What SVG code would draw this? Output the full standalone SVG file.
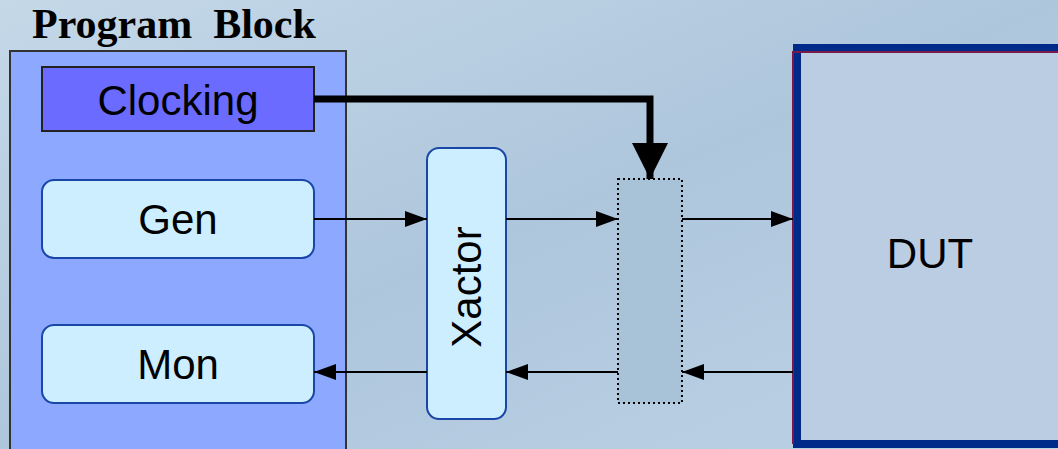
<svg xmlns="http://www.w3.org/2000/svg" width="1058" height="449" viewBox="0 0 1058 449">
<defs>
<linearGradient id="bg" x1="0" y1="0" x2="1" y2="1">
<stop offset="0" stop-color="#c4d8e8"/>
<stop offset="0.5" stop-color="#aec6dc"/>
<stop offset="1" stop-color="#bcd2e6"/>
</linearGradient>
<marker id="ah" viewBox="0 0 22 16" refX="22" refY="8" markerWidth="22" markerHeight="16" markerUnits="userSpaceOnUse" orient="auto">
<path d="M0,0 L22,8 L0,16 Z" fill="#000"/>
</marker>
<marker id="big" viewBox="0 0 36 36" refX="36" refY="18" markerWidth="36" markerHeight="36" markerUnits="userSpaceOnUse" orient="auto">
<path d="M0,0 L36,18 L0,36 Z" fill="#000"/>
</marker>
</defs>
<style>
.lbl{font-family:"Liberation Sans",Arial,sans-serif;font-size:42px;fill:#000;text-anchor:middle;dominant-baseline:central}
.sub{fill:#cceeff;stroke:#1a46a8;stroke-width:2}
.thin{stroke:#000;stroke-width:2;fill:none;marker-end:url(#ah)}
</style>
<rect width="1058" height="449" fill="url(#bg)"/>
<text x="32" y="38" font-family="Liberation Serif,Times New Roman,serif" font-weight="bold" font-size="42" xml:space="preserve">Program  Block</text>
<g id="program-block">
<rect x="10" y="51" width="336" height="410" fill="#8ca8ff" stroke="#333" stroke-width="2"/>
</g>
<g id="dut">
<rect x="797" y="48" width="280" height="396" fill="#bacde2" stroke="#002a8a" stroke-width="8"/>
<path d="M793,444 L793,52 L1058,52" fill="none" stroke="#7a1a4a" stroke-width="2"/>
<text class="lbl" x="930" y="253">DUT</text>
</g>
<g id="clocking">
<rect x="42" y="67" width="272" height="64" fill="#6b6bff" stroke="#222" stroke-width="2"/>
<text class="lbl" x="178" y="100">Clocking</text>
</g>
<g id="gen">
<rect class="sub" x="42" y="180" width="272" height="78" rx="12"/>
<text class="lbl" x="178" y="219">Gen</text>
</g>
<g id="mon">
<rect class="sub" x="42" y="325" width="272" height="78" rx="12"/>
<text class="lbl" x="178" y="364">Mon</text>
</g>
<g id="xactor">
<rect class="sub" x="427" y="148" width="79" height="271" rx="12"/>
<text class="lbl" transform="translate(466,287) rotate(-90)" x="0" y="0">Xactor</text>
</g>
<g id="interface">
<rect x="618" y="179" width="64" height="224" fill="#a8c2d8" stroke="#000" stroke-width="2" stroke-dasharray="2,3"/>
</g>
<g id="connectors">
<path d="M314,99 L650,99 L650,179" fill="none" stroke="#000" stroke-width="7" marker-end="url(#big)"/>
<line class="thin" x1="314" y1="219" x2="427" y2="219"/>
<line class="thin" x1="506" y1="219" x2="618" y2="219"/>
<line class="thin" x1="682" y1="219" x2="793" y2="219"/>
<line class="thin" x1="793" y1="372" x2="682" y2="372"/>
<line class="thin" x1="618" y1="372" x2="506" y2="372"/>
<line class="thin" x1="427" y1="372" x2="314" y2="372"/>
</g>
</svg>
